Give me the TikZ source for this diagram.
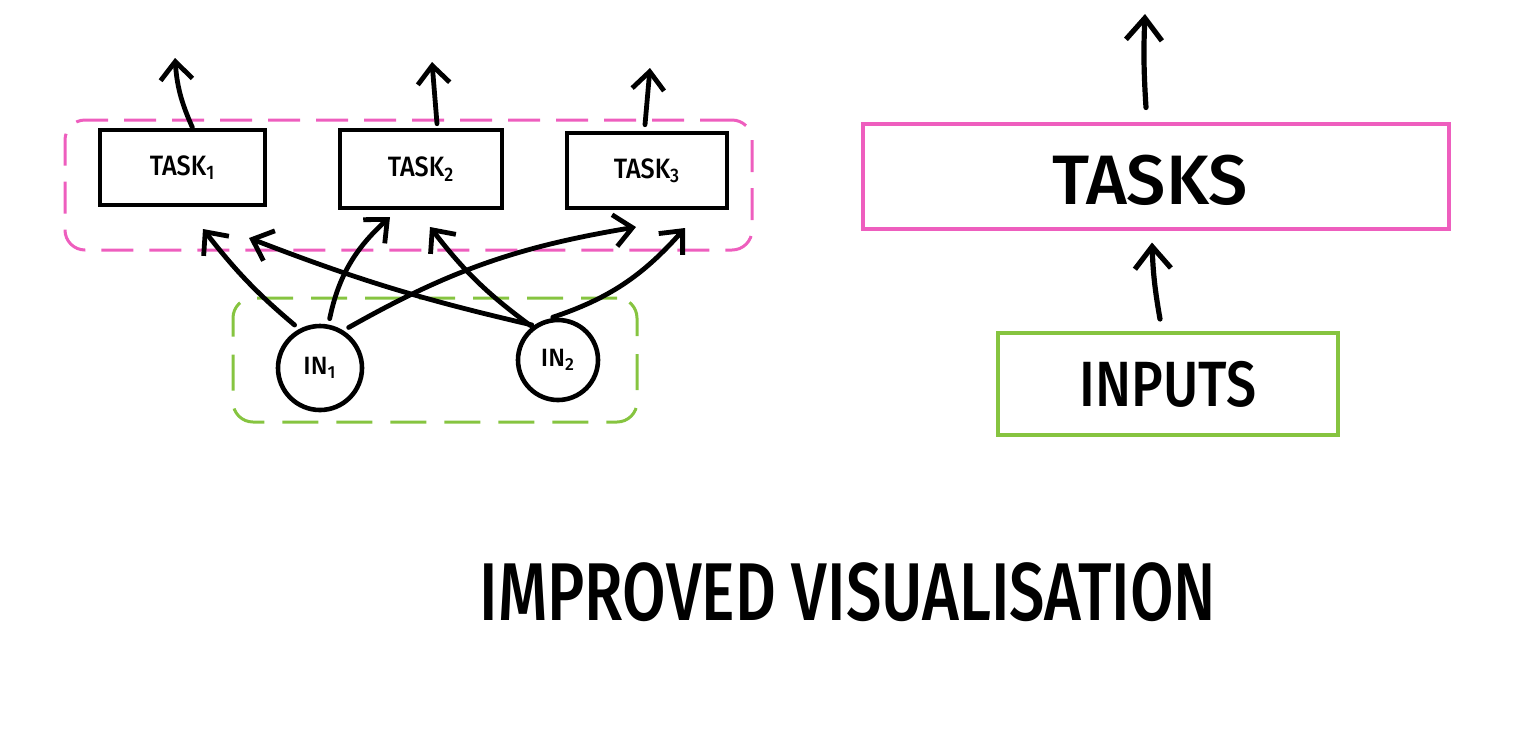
\documentclass[tikz,border=0pt]{standalone}
\usepackage{fontspec}
\setmainfont{Fira Sans Medium}
\usetikzlibrary{arrows.meta}
\definecolor{pinkc}{RGB}{238,94,190}
\definecolor{greenc}{RGB}{134,196,64}
\begin{document}
\begin{tikzpicture}[x=0.5pt,y=0.5pt,
  arr/.style={line width=2.4pt, line cap=round,
    -{Straight Barb[length=9pt,width=16pt,line width=2.4pt]}},
  bigarr/.style={line width=2.6pt, line cap=round,
    -{Straight Barb[length=11pt,width=18pt,line width=2.6pt]}},
  tbox/.style={draw, line width=2.3pt, rectangle, inner sep=0pt,
    font=\fontsize{14}{16}\selectfont},
  incirc/.style={draw, line width=2.3pt, circle, inner sep=0pt,
    font=\fontsize{12.5}{14}\selectfont},
  pgrp/.style={draw=pinkc, line width=1.5pt, rounded corners=10pt,
    dash pattern=on 16pt off 8pt, rectangle, inner sep=0pt},
  ggrp/.style={draw=greenc, line width=1.5pt, rounded corners=10pt,
    dash pattern=on 18pt off 9pt, rectangle, inner sep=0pt},
  bigbox/.style={line width=2pt, rectangle, inner sep=0pt}
]
\useasboundingbox (0,0) rectangle (1537,-735);

% groups
\node[pgrp, minimum width=343.5pt, minimum height=65pt] (tg) at (408.5,-185) {};
\node[ggrp, minimum width=202pt, minimum height=62pt] (ig) at (435,-360) {};

% task boxes
\node[tbox, minimum width=82.5pt, minimum height=37.5pt] (t1) at (182.5,-167.5) {\scalebox{0.9}[1]{TASK\textsubscript{1}}};
\node[tbox, minimum width=81pt, minimum height=39pt] (t2) at (421,-169) {\scalebox{0.9}[1]{TASK\textsubscript{2}}};
\node[tbox, minimum width=80pt, minimum height=37.5pt] (t3) at (647,-170.5) {\scalebox{0.9}[1]{TASK\textsubscript{3}}};

% inputs
\node[incirc, minimum size=42pt] (i1) at (320,-368) {IN\textsubscript{1}};
\node[incirc, minimum size=40pt] (i2) at (558,-360) {IN\textsubscript{2}};

% free ends
\coordinate (u1) at (175,-58);
\coordinate (u2) at (432,-62);
\coordinate (u3) at (650,-68);
\coordinate (ae) at (203,-229);
\coordinate (be) at (390,-217);
\coordinate (ce) at (636,-227);
\coordinate (de) at (249,-238);
\coordinate (ee) at (430,-227);
\coordinate (fe) at (685,-228);

% output arrows
\draw[arr] ([xshift=5pt]t1.north) to[bend left=10] (u1);
\draw[arr] ([xshift=8pt,yshift=2pt]t2.north) -- (u2);
\draw[arr] ([xshift=-1pt,yshift=3pt]t3.north) -- (u3);

% input arrows
\draw[arr, shorten <=3pt] (i1.118) to[bend left=6] (ae);
\draw[arr, shorten <=3pt] (i1.79) to[bend left=18] (be);
\draw[arr, shorten <=3pt] (i1.58) to[bend left=10] (ce);
\draw[arr, shorten <=1pt] (i2.125) to[bend left=4] (de);
\draw[arr, shorten <=1pt] (i2.128) to[bend left=8] (ee);
\draw[arr, shorten <=3pt] (i2.105) to[bend right=15] (fe);

% right side
\node[bigbox, draw=pinkc, minimum width=293pt, minimum height=52.5pt] (tasks) at (1156,-176) {};
\node[font=\fontsize{35}{40}\selectfont] (taskslbl) at (1150,-180) {TASKS};
\node[bigbox, draw=greenc, minimum width=170pt, minimum height=51pt,
  font=\fontsize{32}{36}\selectfont] (inputs) at (1168,-384) {\scalebox{0.84}[1]{INPUTS}};
\coordinate (top) at (1145,-14);
\draw[bigarr] ([xshift=-5pt,yshift=7pt]tasks.north) to[bend left=3] (top);
\draw[bigarr] ([xshift=-4pt,yshift=6pt]inputs.north) to[bend left=4] ([xshift=-2pt,yshift=-6pt]tasks.south);

% title
\node[font=\fontsize{41}{46}\selectfont] (title) at (848,-592) {\scalebox{0.77}[1]{IMPROVED VISUALISATION}};
\end{tikzpicture}
\end{document}
